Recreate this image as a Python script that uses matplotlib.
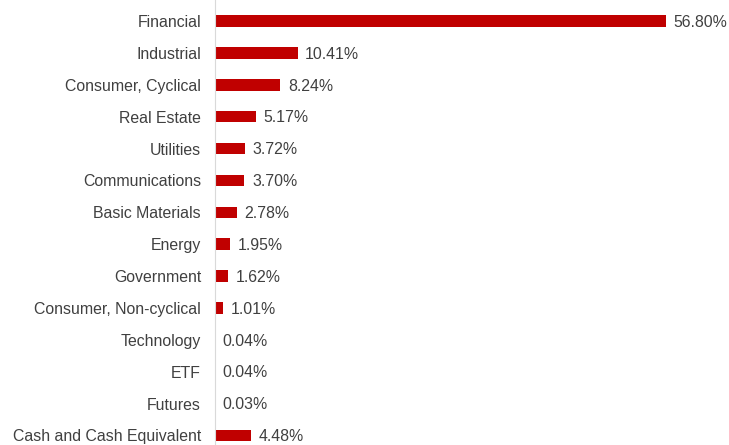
import matplotlib
matplotlib.use("Agg")
import matplotlib.pyplot as plt

categories = ["Financial", "Industrial", "Consumer, Cyclical", "Real Estate", "Utilities",
              "Communications", "Basic Materials", "Energy", "Government",
              "Consumer, Non-cyclical", "Technology", "ETF", "Futures",
              "Cash and Cash Equivalent"]
values = [56.80, 10.41, 8.24, 5.17, 3.72, 3.70, 2.78, 1.95, 1.62, 1.01, 0.04, 0.04, 0.03, 4.48]

plt.rcParams['font.family'] = ['Liberation Sans', 'DejaVu Sans']

fig = plt.figure(figsize=(7.29, 4.45), dpi=100)
ax = fig.add_axes([215 / 729, 0, 1 - 215 / 729, 1])

pos = list(range(len(categories)))
ax.barh(pos, values, height=0.36, color="#C00000")
for p, v in zip(pos, values):
    ax.text(v + 0.95, p + 0.04, "%.2f%%" % v, va="center", ha="left", fontsize=11.4, color="#404040")

ax.set_yticks(pos)
ax.set_yticklabels(categories, fontsize=11.4, color="#404040")
ax.tick_params(axis="y", length=0, pad=10)
ax.set_xticks([])
ax.set_xlim(0, 64.7)
ax.set_ylim(13.3, -0.66)
for s in ["top", "right", "bottom"]:
    ax.spines[s].set_visible(False)
ax.spines["left"].set_color("#D9D9D9")
ax.spines["left"].set_linewidth(0.8)

fig.savefig("out.png", dpi=100)
